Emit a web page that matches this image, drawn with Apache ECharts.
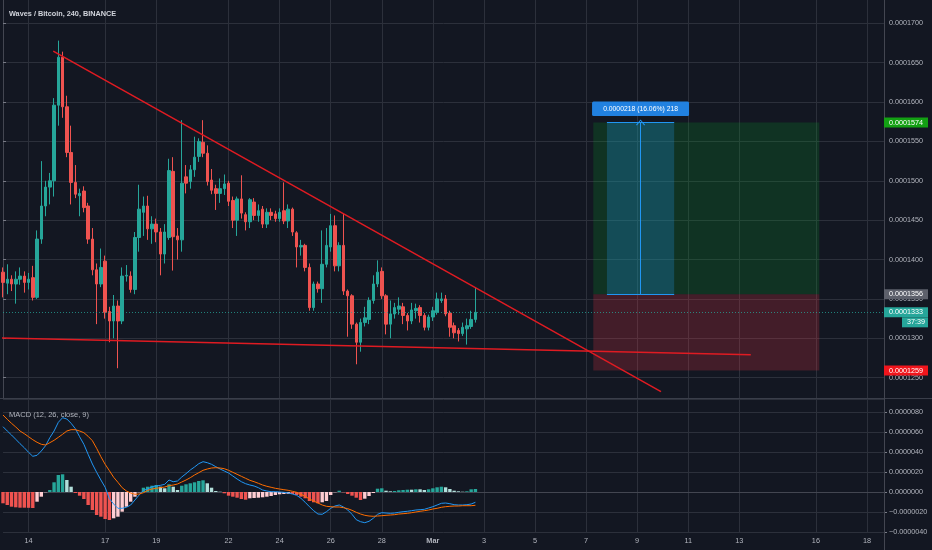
<!DOCTYPE html>
<html>
<head>
<meta charset="utf-8">
<title>Waves / Bitcoin, 240, BINANCE</title>
<script src="https://cdn.jsdelivr.net/npm/echarts@6/dist/echarts.min.js"></script>
<style>
    html, body { margin: 0; padding: 0; background: #131722; }
    #container { width: 932px; height: 550px; }
</style>
</head>
<body>
<div id="container"></div>
<script>
// prices and MACD are kept in units of 0.0000001 BTC
var UNIT = 1e-7;

// 4h candles, Feb 13 00:00 onwards
var open = [1384,1370,1375,1369,1375,1379,1371,1377,1352,1426, 1468,1492,1500,1596,1657,1594,1536,1498,1481,1487,
    1468,1426,1387,1369,1398,1334,1322,1341,1322,1379, 1379,1362,1428,1460,1468,1439,1445,1435,1407,1428,
    1512,1430,1425,1505,1499,1514,1531,1549,1535,1501, 1490,1484,1490,1497,1475,1450,1477,1457,1448,1473,
    1456,1464,1445,1460,1458,1452,1462,1449,1464,1434, 1416,1418,1390,1339,1369,1363,1394,1416,1443,1392,
    1418,1360,1354,1318,1295,1320,1324,1348,1369,1385, 1354,1318,1331,1337,1340,1329,1322,1335,1339,1329,
    1314,1327,1333,1348,1350,1332,1316,1310,1306,1312, 1315,1324];
var high = [1390,1394,1380,1385,1390,1385,1383,1392,1437,1525, 1500,1510,1605,1678,1664,1608,1570,1520,1490,1493,
    1472,1440,1395,1414,1405,1340,1355,1348,1390,1393, 1385,1435,1495,1480,1481,1455,1452,1440,1445,1528,
    1530,1440,1577,1520,1520,1556,1554,1577,1545,1515, 1495,1503,1508,1500,1480,1480,1507,1460,1478,1478,
    1470,1468,1465,1465,1462,1465,1498,1470,1466,1436, 1425,1420,1395,1372,1372,1437,1440,1458,1456,1422,
    1458,1362,1356,1320,1325,1340,1352,1380,1399,1390, 1356,1348,1345,1352,1345,1332,1345,1344,1342,1332,
    1330,1340,1358,1358,1355,1335,1320,1313,1320,1325, 1335,1365];
var low = [1352,1356,1360,1344,1368,1358,1362,1348,1350,1420, 1455,1470,1480,1570,1580,1530,1470,1478,1455,1460,
    1420,1380,1318,1365,1325,1295,1300,1262,1318,1372, 1358,1356,1410,1430,1425,1420,1422,1380,1395,1425,
    1386,1400,1410,1484,1490,1505,1524,1530,1494,1483, 1463,1472,1482,1468,1440,1430,1452,1437,1440,1450,
    1448,1440,1440,1450,1448,1448,1445,1440,1430,1390, 1405,1385,1335,1335,1358,1345,1390,1410,1385,1385,
    1355,1302,1312,1267,1283,1315,1318,1344,1365,1350, 1305,1300,1325,1330,1318,1310,1318,1325,1320,1310,
    1310,1322,1330,1345,1328,1302,1300,1296,1303,1292, 1312,1320];
var close = [1371,1375,1369,1375,1379,1371,1375,1352,1426,1468, 1492,1500,1596,1657,1594,1536,1498,1483,1484,1466,
    1426,1387,1369,1390,1333,1322,1341,1322,1379,1380, 1362,1428,1464,1468,1439,1445,1435,1407,1435,1513,
    1429,1425,1497,1497,1514,1530,1550,1535,1499,1488, 1484,1490,1496,1474,1450,1477,1459,1448,1476,1456,
    1462,1445,1460,1456,1452,1460,1449,1464,1435,1416, 1418,1390,1339,1369,1363,1394,1418,1443,1392,1418,
    1360,1354,1318,1295,1320,1326,1348,1369,1384,1354, 1318,1331,1339,1341,1329,1322,1336,1338,1329,1314,
    1327,1335,1350,1350,1331,1314,1307,1306,1314,1316, 1324,1333];

// MACD (12, 26, close, 9)
var macd = [65.3,61.0,57.0,52.7,48.3,44.3,39.7,35.7,36.7,41.0, 46.3,54.3,61.0,69.7,74.3,73.0,68.7,63.3,55.3,47.7,
    37.7,28.0,19.7,12.0,4.7,-6.7,-12.0,-16.3,-16.3,-15.3, -13.0,-8.0,-3.0,1.7,3.0,5.3,6.0,6.7,7.7,12.0,
    10.3,11.0,15.0,18.3,22.0,25.0,28.3,30.3,29.3,27.7, 25.3,23.0,21.0,19.0,16.0,13.0,10.3,8.3,7.0,6.0,
    4.3,2.0,1.0,0.3,0.3,0,-0.3,-1.0,-2.0,-3.3, -6.3,-10.3,-14.7,-18.7,-22.0,-22.3,-19.7,-16.3,-14.0,-13.0,
    -15.0,-18.0,-22.3,-27.7,-29.7,-30.7,-29.3,-26.3,-22.3,-20.7, -21.0,-21.3,-21.0,-20.3,-19.7,-19.3,-18.7,-18.0,-17.7,-17.3,
    -16.0,-14.7,-13.0,-11.3,-11.0,-11.7,-12.7,-13.0,-13.0,-12.7, -12.0,-10.3];
var signal = [77.0,72.7,68.7,65.0,61.0,58.3,55.3,52.3,49.7,47.7, 47.0,49.3,51.7,54.7,57.7,61.0,62.3,62.3,61.0,59.3,
    55.7,51.3,43.7,35.3,27.7,21.3,14.7,9.7,4.3,1.0, -1.0,-2.3,-2.0,-0.7,1.7,3.0,3.7,4.3,5.0,6.3,
    7.0,8.0,10.0,12.0,14.3,17.0,19.3,21.7,23.0,24.0, 24.3,24.0,23.3,21.7,19.7,17.7,15.7,13.7,11.7,10.3,
    8.7,7.0,5.7,4.7,3.7,3.0,2.3,1.7,0.7,-0.3, -2.3,-4.3,-7.0,-9.0,-11.0,-13.0,-14.3,-14.7,-15.0,-15.0,
    -15.7,-16.7,-18.3,-20.3,-22.0,-23.3,-24.0,-24.3,-24.0,-23.7, -23.3,-23.0,-22.7,-22.0,-21.7,-21.3,-20.7,-20.0,-19.3,-18.7,
    -18.0,-17.0,-16.3,-15.3,-14.7,-14.3,-14.0,-14.0,-13.7,-13.7, -13.7,-13.3];
var hist = [-11.3,-13.0,-14.7,-15.3,-15.7,-15.7,-15.8,-16.0,-9.7,-4.7, -0.3,2.0,9.7,17.0,17.7,12.0,5.3,-1.0,-3.7,-7.0,
    -13.0,-18.0,-23.0,-24.7,-27.0,-28.0,-26.3,-24.7,-19.7,-14.7, -9.7,-4.7,-0.3,4.3,5.3,6.3,7.0,5.3,3.7,7.7,
    5.3,2.0,6.3,7.7,8.7,9.7,11.0,11.7,8.7,4.3, 1.0,0.3,-1.3,-3.7,-4.7,-5.7,-7.0,-7.7,-6.3,-6.0,
    -5.7,-5.3,-4.7,-4.0,-3.0,-2.3,-2.0,-1.8,-2.0,-3.0, -4.7,-6.3,-9.0,-10.3,-11.3,-10.3,-9.0,-3.0,-0.3,1.3,
    -0.3,-2.0,-3.7,-5.7,-8.0,-6.7,-4.0,-1.0,3.3,3.7, 1.3,0.7,1.0,1.7,2.0,2.3,2.3,2.7,2.7,2.0,
    2.7,3.7,4.7,5.3,4.7,3.0,1.3,0.7,0.3,0.7, 2.7,3.0];

// axis ticks
var tickDays = ['2020-02-14','2020-02-17','2020-02-19','2020-02-22','2020-02-24','2020-02-26','2020-02-28',
    '2020-03-01','2020-03-03','2020-03-05','2020-03-07','2020-03-09','2020-03-11','2020-03-13','2020-03-16','2020-03-18'];
var tickLabels = ['14','17','19','22','24','26','28','Mar','3','5','7','9','11','13','16','18'];
var priceTicks = [1250,1300,1350,1400,1450,1500,1550,1600,1650,1700];

// drawings: [bar index, price]
var trendHigh = [[11.8, 1664.8], [154.6, 1232.2]];
var trendLow = [[-0.7, 1300.4], [175.7, 1279.2]];
var entry = 1356, target = 1574, stop = 1259;
var positionBars = [138.7, 191.8];
var rangeBars = [141.9, 157.7, 149.8];
var lastPrice = 1333;

// 4h time slots up to Mar 18, one bar is absent from the feed (Feb 20 04:00)
var categories = [];
var START = Date.UTC(2020, 1, 13, 0);
for (var s = 0; s <= 208; s++) {
    if (s === 43) continue;
    categories.push(new Date(START + s * 4 * 3600 * 1000).toISOString().slice(0, 16).replace('T', ' '));
}

var FONT = 'Liberation Sans';
var TXT = '#b2b5be';
var GRID = '#2c303b';
var UP = '#26a69a', DOWN = '#ef5350';

function isTick(index, value) {
    return value.slice(11) === '00:00' && tickDays.indexOf(value.slice(0, 10)) >= 0;
}
function tickText(value) {
    var t = tickLabels[tickDays.indexOf(value.slice(0, 10))];
    return t === 'Mar' ? '{m|Mar}' : t;
}
function fmtPrice(v) { return (v * UNIT).toFixed(7); }
function fmtMacd(v) {
    var s = (Math.abs(v) * UNIT).toFixed(7);
    return v < 0 ? '\u2212' + s : s;
}
function histColor(i) {
    var v = hist[i], p = i > 0 ? hist[i - 1] : v;
    if (v >= 0) return p < v ? '#26a69a' : '#b2dfdb';
    return p < v ? '#ffcdd2' : '#ef5350';
}

var candles = open.map(function (o, i) { return [o, close[i], low[i], high[i]]; });
var histData = hist.map(function (v, i) { return {value: v, itemStyle: {color: histColor(i)}}; });

var dom = document.getElementById('container');
var myChart = echarts.init(dom);
var option = {
    backgroundColor: '#131722',
    animation: false,
    textStyle: {fontFamily: FONT},
    title: [
        {text: 'Waves / Bitcoin, 240, BINANCE', left: 4, top: 5,
            textStyle: {color: '#d1d4dc', fontSize: 7.3, fontWeight: 'bold', fontFamily: FONT}},
        {text: 'MACD (12, 26, close, 9)', left: 4, top: 406,
            textStyle: {color: TXT, fontSize: 7.5, fontWeight: 'normal', fontFamily: FONT}}
    ],
    grid: [
        {left: 3, right: 48, top: 0, height: 398},
        {left: 3, right: 48, top: 399, height: 133}
    ],
    xAxis: [
        {type: 'category', gridIndex: 0, data: categories, boundaryGap: false,
            axisLine: {show: false}, axisTick: {show: false}, axisLabel: {show: false},
            splitLine: {show: true, interval: isTick, lineStyle: {color: GRID}}},
        {type: 'value', gridIndex: 0, min: 0, max: categories.length - 1, show: false},
        {type: 'category', gridIndex: 1, data: categories, boundaryGap: false,
            axisLine: {lineStyle: {color: '#434651'}}, axisTick: {show: false},
            axisLabel: {interval: isTick, formatter: tickText, color: TXT, fontSize: 7.3, margin: 5,
                rich: {m: {fontWeight: 'bold', fontSize: 7.3, color: TXT}}},
            splitLine: {show: true, interval: isTick, lineStyle: {color: GRID}}}
    ],
    yAxis: [
        {type: 'value', gridIndex: 0, position: 'right', min: 1224.2, max: 1729.6, scale: true,
            axisLine: {show: true, lineStyle: {color: '#434651'}},
            axisTick: {show: true, length: 3, customValues: priceTicks, lineStyle: {color: '#787b86'}},
            axisLabel: {customValues: priceTicks, formatter: fmtPrice, color: TXT, fontSize: 7.2, margin: 5},
            splitLine: {show: true, lineStyle: {color: GRID}}},
        {type: 'value', gridIndex: 1, position: 'right', min: -40, max: 93, interval: 20,
            axisLine: {show: true, lineStyle: {color: '#434651'}},
            axisTick: {show: true, length: 3, lineStyle: {color: '#787b86'}},
            axisLabel: {formatter: fmtMacd, color: TXT, fontSize: 7.2, margin: 5, showMaxLabel: false},
            splitLine: {show: true, lineStyle: {color: GRID}}}
    ],
    series: [
        {
            name: 'position', type: 'line', xAxisIndex: 1, yAxisIndex: 0, z: 1,
            data: [[positionBars[0], entry]], showSymbol: false, lineStyle: {opacity: 0},
            markArea: {
                silent: true,
                data: [
                    [{coord: [positionBars[0], target], itemStyle: {color: 'rgba(8,153,40,0.22)'}}, {coord: [positionBars[1], entry]}],
                    [{coord: [positionBars[0], entry], itemStyle: {color: 'rgba(242,54,69,0.22)'}}, {coord: [positionBars[1], stop]}],
                    [{coord: [rangeBars[0], target], itemStyle: {color: 'rgba(33,150,243,0.25)'}}, {coord: [rangeBars[1], entry]}]
                ]
            },
            markLine: {
                silent: true, symbol: 'none', label: {show: false},
                lineStyle: {color: '#2196f3', width: 1, type: 'solid'},
                data: [
                    [{coord: [rangeBars[0], target]}, {coord: [rangeBars[1], target]}],
                    [{coord: [rangeBars[0], entry]}, {coord: [rangeBars[1], entry]}],
                    [{coord: [rangeBars[2], entry], symbol: 'none'},
                        {coord: [rangeBars[2], target], symbol: 'path://M0,8L5,0L10,8L9,9L5,2L1,9Z', symbolSize: [9, 6]}]
                ]
            }
        },
        {
            name: 'Waves / Bitcoin', type: 'candlestick', xAxisIndex: 0, yAxisIndex: 0, z: 3,
            data: candles, barWidth: 3,
            itemStyle: {color: UP, color0: DOWN, borderColor: UP, borderColor0: DOWN, borderWidth: 1},
            markLine: {
                silent: true, symbol: 'none', label: {show: false},
                lineStyle: {color: 'rgba(38,166,154,0.75)', type: [1, 2], width: 1},
                data: [{yAxis: lastPrice}]
            }
        },
        {name: 'trend high', type: 'line', xAxisIndex: 1, yAxisIndex: 0, z: 5, data: trendHigh,
            showSymbol: false, lineStyle: {color: '#e01b22', width: 1.5}},
        {name: 'trend low', type: 'line', xAxisIndex: 1, yAxisIndex: 0, z: 5, data: trendLow, clip: false,
            showSymbol: false, lineStyle: {color: '#e01b22', width: 1.5}},
        {name: 'Histogram', type: 'bar', xAxisIndex: 2, yAxisIndex: 1, data: histData, barWidth: 3.4},
        {name: 'MACD', type: 'line', xAxisIndex: 2, yAxisIndex: 1, data: macd, showSymbol: false,
            lineStyle: {color: '#2196f3', width: 1}},
        {name: 'Signal', type: 'line', xAxisIndex: 2, yAxisIndex: 1, data: signal, showSymbol: false,
            lineStyle: {color: '#ff6d00', width: 1}}
    ]
};
myChart.setOption(option, true);

// axis price tags and measure label
function yPx(v) { return myChart.convertToPixel({yAxisIndex: 0}, v); }
function tag(y, x0, text, bg) {
    return [
        {type: 'rect', z: 100, shape: {x: x0, y: y - 5, width: 928 - x0, height: 10}, style: {fill: bg}},
        {type: 'text', z: 101, x: x0 + 5, y: y,
            style: {text: text, fill: '#ffffff', fontSize: 7.2, fontFamily: FONT, verticalAlign: 'middle', align: 'left'}}
    ];
}
var ax = 884;
var cx = myChart.convertToPixel({xAxisIndex: 1}, rangeBars[2]);
var ty = yPx(target);
var graphics = [
    {type: 'line', z: 90, shape: {x1: 0, y1: 398.5, x2: 932, y2: 398.5}, style: {stroke: '#3a3e4a', lineWidth: 1}},
    {type: 'line', z: 90, shape: {x1: ax + 0.5, y1: 0, x2: ax + 0.5, y2: 550}, style: {stroke: '#434651', lineWidth: 1}},
    {type: 'rect', z: 100, shape: {x: cx - 48.5, y: ty - 21, width: 97, height: 14.5, r: 1.5}, style: {fill: '#2181e0'}},
    {type: 'text', z: 101, x: cx, y: ty - 13.7,
        style: {text: '0.0000218 (16.06%) 218', fill: '#ffffff', fontSize: 6.8, fontFamily: FONT, align: 'center', verticalAlign: 'middle'}}
];
graphics = graphics
    .concat(tag(yPx(target), ax, fmtPrice(target), '#13a013'))
    .concat(tag(yPx(entry), ax, fmtPrice(entry), '#5d606b'))
    .concat(tag(yPx(lastPrice), ax, fmtPrice(lastPrice), UP))
    .concat(tag(yPx(lastPrice) + 10, 902, '37:39', UP))
    .concat(tag(yPx(stop), ax, fmtPrice(stop), '#f0151c'));
myChart.setOption({graphic: graphics});
</script>
</body>
</html>
